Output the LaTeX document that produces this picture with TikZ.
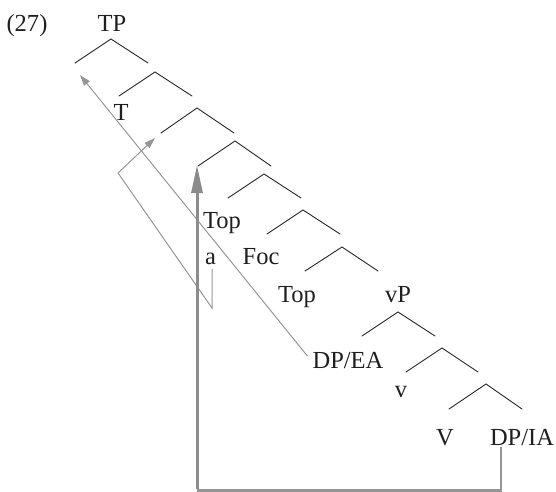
\documentclass[tikz,border=0pt]{standalone}
\usepackage{fontspec}
\setmainfont{Liberation Serif}
\usetikzlibrary{arrows.meta}
\definecolor{mvgray}{RGB}{150,150,150}
\definecolor{mvdark}{RGB}{140,140,140}
\begin{document}
\begin{tikzpicture}[x=1bp,y=-1bp,
  font=\fontsize{24.5bp}{28bp}\selectfont,
  br/.style={line width=0.9bp, black!85, line cap=round},
  lbl/.style={anchor=base, inner sep=0pt, text=black!88},
  mv/.style={draw=mvgray, line width=1bp, -{Triangle[length=11bp,width=7bp]}},
  mvthick/.style={draw=mvdark, line width=3bp, -{Triangle[length=28bp,width=11bp]}},
  mvmid/.style={draw=mvgray, line width=2.3bp}]
\useasboundingbox (0,0) rectangle (556,492);
% branching nodes
\foreach \n/\ax/\ay/\lx/\ly/\rx/\ry in {
  a1/111/39/75/63/148/63,
  a2/155/72/119/96/192/96,
  a3/197/108/161/133/234/133,
  a4/235/141/198/166/271/166,
  a5/264/174/228/198/301/198,
  a6/303/210/267/234/340/234,
  a7/342/247/305/271/378/271,
  a8/398/312/362/336/435/336,
  a9/442/348/406/372/478/372,
  a10/486/384/449/409/522/409}{
  \coordinate (\n) at (\ax,\ay);
  \coordinate (\n L) at (\lx,\ly);
  \coordinate (\n R) at (\rx,\ry);
  \draw[br] (\n L) -- (\n) -- (\n R);
}
% labels
\node[lbl] (ex) at (27,32) {(27)};
\node[lbl] (TP) at (112,32) {TP};
\node[lbl] (T) at (121,121) {T};
\node[lbl] (top1) at (222,228) {Top};
\node[lbl] (a) at (210.5,264) {a};
\node[lbl] (foc) at (261,264) {Foc};
\node[lbl] (top2) at (297,302) {Top};
\node[lbl] (vP) at (398,302) {vP};
\node[lbl] (dpea) at (348,368) {DP/EA};
\node[lbl] (v) at (401,397) {v};
\node[lbl] (V) at (445,445) {V};
\node[lbl] (dpia) at (522,445) {DP/IA};
% movement arrows
\draw[mv] ([shift={(-5,-4)}]dpea.west) -- ([shift={(5,12)}]a1L);
\coordinate (ac) at (118,173);
\draw[mv] ([shift={(1.5,5)}]a.base) -- ++(0,39) -- (ac) -- ([shift={(-6,5)}]a3L);
\coordinate (bc) at (197,490.5);
\draw[mvmid] ([shift={(-21,2)}]dpia.base) |- (bc);
\draw[mvthick] ([yshift=1.5]bc) -- ([shift={(-1,-1)}]a4L);
\end{tikzpicture}
\end{document}
